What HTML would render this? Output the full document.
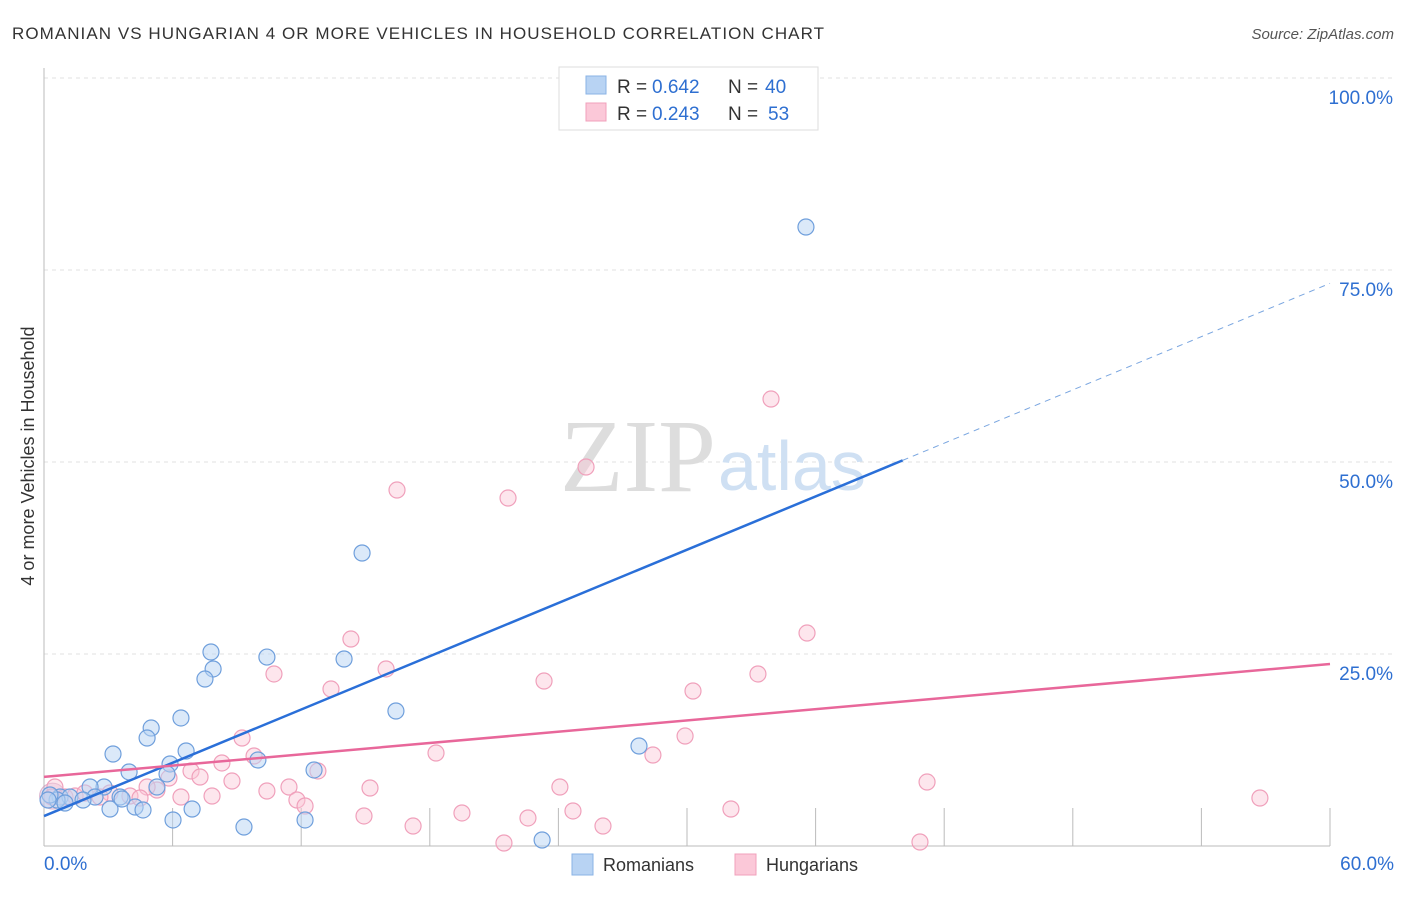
<!DOCTYPE html>
<html><head><meta charset="utf-8"><style>
body{margin:0;background:#fff;font-family:"Liberation Sans",sans-serif;}
</style></head><body>
<svg width="1406" height="892" xmlns="http://www.w3.org/2000/svg" font-family="Liberation Sans, sans-serif">
<text x="12" y="39" font-size="17" fill="#333" textLength="812">ROMANIAN VS HUNGARIAN 4 OR MORE VEHICLES IN HOUSEHOLD CORRELATION CHART</text>
<text x="1394" y="39" font-size="15" fill="#555" text-anchor="end" font-style="italic">Source: ZipAtlas.com</text>
<g id="grid"></g>
<text x="716" y="491" font-size="104" text-anchor="end" fill="#ddd" font-family="Liberation Serif, serif">ZIP</text>
<text x="718" y="490" font-size="70" fill="#cfe0f3">atlas</text>
<g id="pts"></g>
<g id="lines"></g>
<text transform="translate(34,456) rotate(-90)" font-size="18" fill="#333" text-anchor="middle">4 or more Vehicles in Household</text>
<g>
<rect x="559" y="67" width="259" height="63" fill="#fff" stroke="#ddd"/>
<rect x="586" y="76" width="20" height="18" fill="#b8d3f3" stroke="#8ab3e6"/>
<rect x="586" y="103" width="20" height="18" fill="#fbc8d8" stroke="#f0a0bb"/>
<text x="617" y="93" font-size="19" fill="#333">R =</text>
<text x="652" y="93" font-size="19" fill="#2e6fd1">0.642</text>
<text x="728" y="93" font-size="19" fill="#333">N =</text>
<text x="765" y="93" font-size="19" fill="#2e6fd1">40</text>
<text x="617" y="120" font-size="19" fill="#333">R =</text>
<text x="652" y="120" font-size="19" fill="#2e6fd1">0.243</text>
<text x="728" y="120" font-size="19" fill="#333">N =</text>
<text x="768" y="120" font-size="19" fill="#2e6fd1">53</text>
</g>
<g>
<rect x="572" y="854" width="21" height="21" fill="#b8d3f3" stroke="#8ab3e6"/>
<text x="603" y="871" font-size="18" fill="#333">Romanians</text>
<rect x="735" y="854" width="21" height="21" fill="#fbc8d8" stroke="#f0a0bb"/>
<text x="766" y="871" font-size="18" fill="#333">Hungarians</text>
</g>
</svg>
<script>
const blueX=[35.55,14.84,16.42,14.0,10.4,7.79,7.89,7.51,6.39,5.0,4.81,6.63,3.22,3.97,5.88,5.74,9.98,12.6,27.76,5.27,2.8,2.15,0.75,1.21,2.38,3.55,0.61,3.08,4.25,4.62,6.91,6.02,9.33,12.18,23.24,1.82,0.28,3.64,0.98,0.19];
const blueY=[80.6,38.15,17.58,24.35,24.6,25.26,23.05,21.74,16.67,15.36,14.06,12.37,11.98,9.64,10.68,9.38,11.2,9.9,13.02,7.68,7.68,7.68,6.38,6.38,6.38,6.38,5.99,4.82,5.08,4.69,4.82,3.39,2.47,3.39,0.78,5.99,6.64,6.12,5.6,5.99];
const pinkX=[33.92,25.29,16.47,21.65,35.6,14.32,23.33,33.31,10.73,15.96,13.39,30.28,29.91,18.29,28.41,9.24,9.8,8.3,6.86,7.28,5.83,5.27,4.81,8.77,11.43,12.78,15.21,24.07,41.2,56.73,7.84,10.4,6.39,11.8,12.18,14.93,17.22,19.5,22.58,24.68,26.08,32.05,21.46,40.87,4.01,3.08,2.61,0.51,0.98,4.48,1.45,0.37,1.91];
const pinkY=[58.2,49.35,46.35,45.31,27.73,26.95,21.48,22.4,22.4,23.05,20.44,20.18,14.32,12.11,11.85,14.06,11.72,10.81,9.77,8.98,8.85,7.29,7.68,8.46,7.68,9.77,7.55,7.68,8.33,6.25,6.51,7.16,6.38,5.99,5.21,3.91,2.6,4.3,3.65,4.56,2.6,4.82,0.39,0.52,6.51,6.9,6.38,7.68,6.38,6.25,6.51,6.38,6.9];
const yTicks=[25,50,75,100];
const yTickLabels=["25.0%","50.0%","75.0%","100.0%"];
const xTickLabels=["0.0%","60.0%"];
const blueTrend=[3.9,1.156];
const pinkTrend=[9.0,0.245];
const NS="http://www.w3.org/2000/svg";
const sx=v=>44+v*1286/60, sy=v=>846-v*7.68;
function mk(p,t,a){const e=document.createElementNS(NS,t);for(const k in a)e.setAttribute(k,a[k]);p.appendChild(e);return e;}
const g=document.getElementById('grid');
yTicks.forEach((t,i)=>{
 const l=mk(g,'line',{x1:44,x2:1394,y1:sy(t),y2:sy(t),stroke:'#e2e2e2','stroke-dasharray':'4,4'});
 
 
 const tx=mk(g,'text',{x:1393,y:sy(t)+26,'font-size':19,fill:'#2e6fd1','text-anchor':'end'});tx.textContent=yTickLabels[i];
 
 
});
const ax=mk(g,'line',{x1:44,x2:44,y1:68,y2:846,stroke:'#bbb'});


const bx=mk(g,'line',{x1:44,x2:1330,y1:846,y2:846,stroke:'#bbb'});


for(let i=1;i<=10;i++){const t=mk(g,'line',{x1:sx(i*6),x2:sx(i*6),y1:808,y2:846,stroke:'#bbb'});
 
 }
[[0,'start',44],[60,'end',1394]].forEach((d,i)=>{const t=mk(g,'text',{x:d[2],y:870,'font-size':19,fill:'#2e6fd1','text-anchor':d[1]});t.textContent=xTickLabels[i];
 
 });
const pg=document.getElementById('pts');
mk(pg,'circle',{cx:sx(0.4),cy:sy(6.5),r:13,fill:'rgba(200,160,200,0.3)',stroke:'rgba(200,140,180,0.6)'});
pinkX.forEach((x,i)=>{const c=mk(pg,'circle',{cx:sx(x),cy:sy(pinkY[i]),r:8,fill:'rgba(251,200,216,0.45)',stroke:'#f0a0bb','stroke-width':1.2});
 
 });
blueX.forEach((x,i)=>{const c=mk(pg,'circle',{cx:sx(x),cy:sy(blueY[i]),r:8,fill:'rgba(184,211,243,0.5)',stroke:'#6f9fdc','stroke-width':1.2});
 
 });
const lg=document.getElementById('lines');
const bl=mk(lg,'line',{x1:sx(0),y1:sy(blueTrend[0]),x2:sx(40.06),y2:sy(blueTrend[0]+blueTrend[1]*40.06),stroke:'#2a6fd8','stroke-width':2.5});


const bd=mk(lg,'line',{x1:sx(40.06),y1:sy(blueTrend[0]+blueTrend[1]*40.06),x2:sx(60),y2:sy(blueTrend[0]+blueTrend[1]*60),stroke:'#7aa6e0','stroke-width':1,'stroke-dasharray':'6,5'});


const pl=mk(lg,'line',{x1:sx(0),y1:sy(pinkTrend[0]),x2:sx(60),y2:sy(pinkTrend[0]+pinkTrend[1]*60),stroke:'#e8679a','stroke-width':2.5});


</script>
</body></html>
